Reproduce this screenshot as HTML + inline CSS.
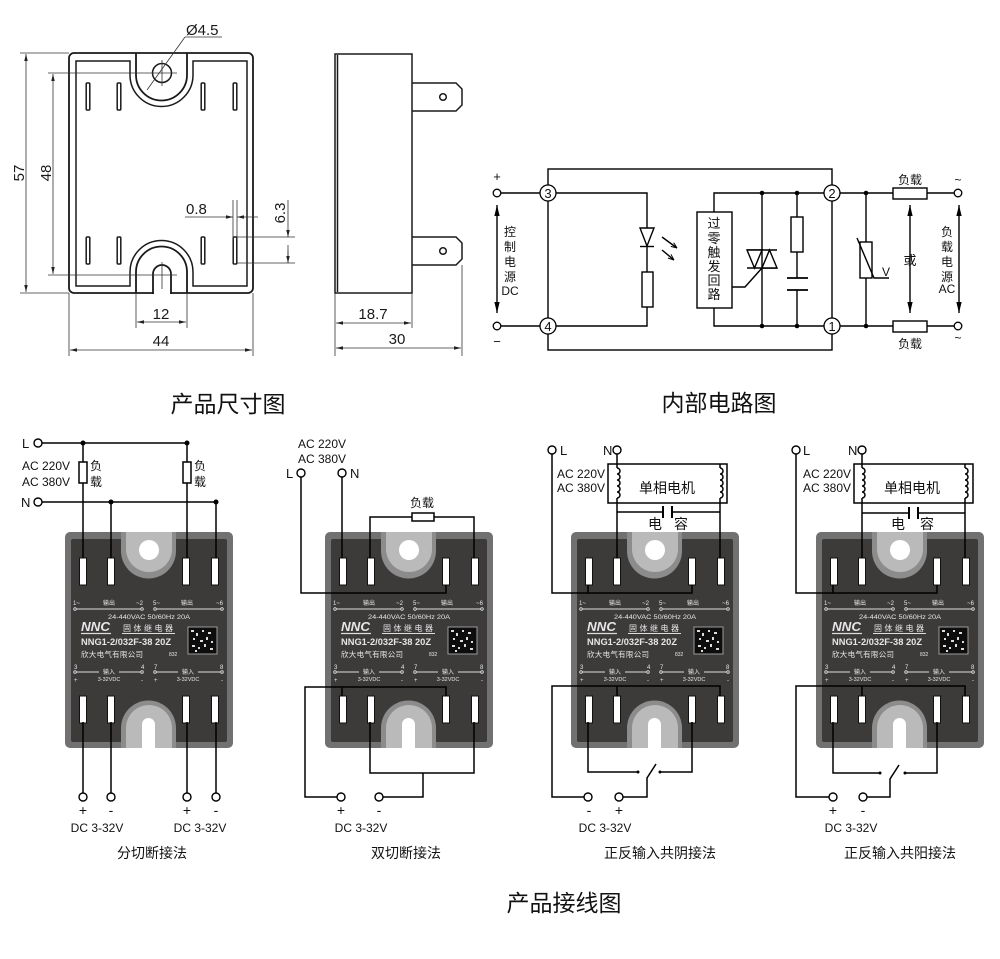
<!DOCTYPE html>
<html><head><meta charset="utf-8">
<style>
html,body{margin:0;padding:0;background:#fff;}
svg{display:block;}
text{font-family:"Liberation Sans","Noto Sans CJK SC",sans-serif;}
</style></head><body>
<svg width="1000" height="959" viewBox="0 0 1000 959" xmlns="http://www.w3.org/2000/svg">
<defs>
<marker id="ar" viewBox="0 0 10 10" refX="10" refY="5" markerWidth="7" markerHeight="7" markerUnits="userSpaceOnUse" orient="auto-start-reverse"><path d="M0,2.5 L10,5 L0,7.5 Z" fill="#222"/></marker>
<marker id="ab" viewBox="0 0 10 10" refX="10" refY="5" markerWidth="11" markerHeight="11" markerUnits="userSpaceOnUse" orient="auto-start-reverse"><path d="M0,2.6 L10,5 L0,7.4 Z" fill="#000"/></marker>
<marker id="as" viewBox="0 0 10 10" refX="10" refY="5" markerWidth="6" markerHeight="6" markerUnits="userSpaceOnUse" orient="auto"><path d="M0,1 L10,5 L0,9" fill="none" stroke="#000" stroke-width="1.6"/></marker>
</defs>
<rect width="1000" height="959" fill="#fff"/>

<!-- ============ DIMENSION DRAWING ============ -->
<g fill="none" stroke="#1a1a1a" stroke-width="1.8">
<rect x="69" y="53" width="184" height="240" rx="5"/>
<path d="M76,61 H130 V75 A31.5,31.5 0 0 0 193,75 V61 H247 V286 H193 V272 A31.5,31.5 0 0 0 130,272 V286 H76 Z" stroke-width="1.5"/>
<path d="M136,53 V75 A25.5,25.5 0 0 0 187,75 V53"/>
<path d="M136,293 V272 A25.5,25.5 0 0 1 187,272 V293"/>
</g>
<rect x="154" y="288" width="16" height="8" fill="#fff"/>
<path d="M153,294 V274 A9,9 0 0 1 171,274 V294" fill="none" stroke="#1a1a1a" stroke-width="1.8"/>
<circle cx="162" cy="73" r="9.5" fill="none" stroke="#1a1a1a" stroke-width="1.5"/>
<g fill="#fff" stroke="#1a1a1a" stroke-width="1.5">
<rect x="86.2" y="83" width="3.6" height="27" rx="1"/>
<rect x="117.2" y="83" width="3.6" height="27" rx="1"/>
<rect x="201.2" y="83" width="3.6" height="27" rx="1"/>
<rect x="233.2" y="83" width="3.6" height="27" rx="1"/>
<rect x="86.2" y="237" width="3.6" height="27" rx="1"/>
<rect x="117.2" y="237" width="3.6" height="27" rx="1"/>
<rect x="201.2" y="237" width="3.6" height="27" rx="1"/>
<rect x="233.2" y="237" width="3.6" height="27" rx="1"/>
</g>
<g stroke="#333" stroke-width="0.8" fill="none">
<!-- center lines -->
<line x1="48" y1="73" x2="177" y2="73"/>
<line x1="162" y1="60" x2="162" y2="86"/>
<line x1="48" y1="275" x2="177" y2="275"/>
<line x1="162" y1="262" x2="162" y2="289"/>
<!-- 57 -->
<line x1="20" y1="53" x2="69" y2="53"/>
<line x1="20" y1="293" x2="69" y2="293"/>
<line x1="26" y1="54" x2="26" y2="292" marker-start="url(#ar)" marker-end="url(#ar)"/>
<!-- 48 -->
<line x1="53" y1="74" x2="53" y2="274" marker-start="url(#ar)" marker-end="url(#ar)"/>
<!-- dia -->
<line x1="185" y1="37" x2="147" y2="90"/>
<line x1="185" y1="37" x2="222" y2="37"/>
<!-- 0.8 -->
<line x1="233" y1="200" x2="233" y2="240"/>
<line x1="237" y1="200" x2="237" y2="240"/>
<line x1="185" y1="217" x2="233" y2="217" marker-end="url(#ar)"/>
<line x1="258" y1="217" x2="237" y2="217" marker-end="url(#ar)"/>
<!-- 6.3 -->
<line x1="237" y1="237" x2="295" y2="237"/>
<line x1="237" y1="263" x2="295" y2="263"/>
<line x1="288" y1="200" x2="288" y2="237" marker-end="url(#ar)"/>
<line x1="288" y1="263" x2="288" y2="245"/>
<line x1="288" y1="250" x2="288" y2="263" marker-end="url(#ar)"/>
<!-- 12 -->
<line x1="136" y1="293" x2="136" y2="328"/>
<line x1="187" y1="293" x2="187" y2="328"/>
<line x1="137" y1="322" x2="186" y2="322" marker-start="url(#ar)" marker-end="url(#ar)"/>
<!-- 44 -->
<line x1="69" y1="293" x2="69" y2="356"/>
<line x1="253" y1="293" x2="253" y2="356"/>
<line x1="70" y1="350" x2="252" y2="350" marker-start="url(#ar)" marker-end="url(#ar)"/>
</g>
<g fill="#1a1a1a" font-size="15">
<text transform="translate(24,173) rotate(-90)" text-anchor="middle">57</text>
<text transform="translate(51,173) rotate(-90)" text-anchor="middle">48</text>
<text x="186" y="35">Ø4.5</text>
<text x="186" y="214">0.8</text>
<text transform="translate(285,213) rotate(-90)" text-anchor="middle">6.3</text>
<text x="161" y="319" text-anchor="middle">12</text>
<text x="161" y="346" text-anchor="middle">44</text>
</g>

<!-- side view -->
<g fill="none" stroke="#1a1a1a" stroke-width="1.5">
<rect x="335" y="54" width="77" height="239"/>
<line x1="337.5" y1="55" x2="337.5" y2="292"/>
<path d="M412,83 H456 L462,89 V105 L456,111 H412"/>
<path d="M412,237 H456 L462,243 V259 L456,265 H412"/>
<circle cx="443" cy="97" r="3.3"/>
<circle cx="443" cy="251" r="3.3"/>
</g>
<g stroke="#333" stroke-width="0.8" fill="none">
<line x1="335" y1="293" x2="335" y2="356"/>
<line x1="412" y1="293" x2="412" y2="328"/>
<line x1="462" y1="265" x2="462" y2="356"/>
<line x1="336" y1="323" x2="411" y2="323" marker-start="url(#ar)" marker-end="url(#ar)"/>
<line x1="336" y1="348" x2="461" y2="348" marker-start="url(#ar)" marker-end="url(#ar)"/>
</g>
<g fill="#1a1a1a" font-size="15">
<text x="373" y="319" text-anchor="middle">18.7</text>
<text x="397" y="344" text-anchor="middle">30</text>
</g>

<text x="228" y="412" font-size="23" text-anchor="middle" fill="#111">产品尺寸图</text>
<text x="719" y="411" font-size="23" text-anchor="middle" fill="#111">内部电路图</text>
<text x="564" y="911" font-size="23" text-anchor="middle" fill="#111">产品接线图</text>

<!-- ============ CIRCUIT ============ -->
<g fill="none" stroke="#000" stroke-width="1.4">
<rect x="548" y="169" width="284" height="181"/>
<line x1="501" y1="193" x2="548" y2="193"/>
<line x1="501" y1="326" x2="548" y2="326"/>
<polyline points="548,193 647,193 647,228"/>
<line x1="647" y1="246" x2="647" y2="272"/>
<rect x="642" y="272" width="11" height="35"/>
<polyline points="647,307 647,326 548,326"/>
<line x1="640" y1="246.5" x2="654" y2="246.5"/>
<line x1="662" y1="237" x2="677" y2="248" marker-end="url(#as)"/>
<line x1="662" y1="250" x2="674" y2="260" marker-end="url(#as)"/>
<rect x="697" y="212" width="35" height="96"/>
<polyline points="714,212 714,193 832,193"/>
<polyline points="714,308 714,326 832,326"/>
<line x1="762" y1="193" x2="762" y2="326"/>
<line x1="747" y1="250" x2="777" y2="250"/>
<line x1="747" y1="268" x2="777" y2="268"/>
<polyline points="762,268 745,287 732,287"/>
<line x1="797" y1="193" x2="797" y2="217"/>
<rect x="791" y="217" width="12" height="35"/>
<line x1="797" y1="252" x2="797" y2="278"/>
<line x1="787" y1="278" x2="808" y2="278" stroke-width="1.8"/>
<line x1="787" y1="290" x2="808" y2="290" stroke-width="1.8"/>
<line x1="797" y1="290" x2="797" y2="326"/>
<line x1="832" y1="193" x2="893" y2="193"/>
<line x1="832" y1="326" x2="893" y2="326"/>
<rect x="893" y="188" width="34" height="11"/>
<rect x="893" y="321" width="34" height="11"/>
<line x1="927" y1="193" x2="954" y2="193"/>
<line x1="927" y1="326" x2="954" y2="326"/>
<line x1="866" y1="193" x2="866" y2="242"/>
<rect x="860" y="242" width="12" height="36"/>
<line x1="866" y1="278" x2="866" y2="326"/>
<polyline points="857,238 874,278 889,278"/>
<line x1="497" y1="205" x2="497" y2="313" marker-start="url(#ab)" marker-end="url(#ab)"/>
<line x1="910" y1="205" x2="910" y2="313" marker-start="url(#ab)" marker-end="url(#ab)"/>
<line x1="959" y1="205" x2="959" y2="313" marker-start="url(#ab)" marker-end="url(#ab)"/>
</g>
<polygon points="640,228 654,228 647,246" fill="#fff" stroke="#000" stroke-width="1.4"/>
<polygon points="747,250 762,250 754.5,268" fill="#fff" stroke="#000" stroke-width="1.4"/>
<polygon points="762,268 777,268 769.5,250" fill="#fff" stroke="#000" stroke-width="1.4"/>
<g fill="#000">
<circle cx="762" cy="193" r="2.3"/><circle cx="762" cy="326" r="2.3"/>
<circle cx="797" cy="193" r="2.3"/><circle cx="797" cy="326" r="2.3"/>
<circle cx="866" cy="193" r="2.3"/><circle cx="866" cy="326" r="2.3"/>
</g>
<g fill="#fff" stroke="#000" stroke-width="1.3">
<circle cx="548" cy="193" r="8"/><circle cx="548" cy="326" r="8"/>
<circle cx="832" cy="193" r="8"/><circle cx="832" cy="326" r="8"/>
<circle cx="497" cy="193" r="3.8"/><circle cx="497" cy="326" r="3.8"/>
<circle cx="958" cy="193" r="3.8"/><circle cx="958" cy="326" r="3.8"/>
</g>
<g fill="#111" font-size="13" text-anchor="middle">
<text x="548" y="198">3</text><text x="548" y="331">4</text>
<text x="832" y="198">2</text><text x="832" y="331">1</text>
<text x="497" y="181">+</text><text x="497" y="346">−</text>
<text x="958" y="184" font-size="12">~</text><text x="958" y="342" font-size="12">~</text>
</g>
<g fill="#111" font-size="12" text-anchor="middle">
<text x="510" y="236">控</text><text x="510" y="251">制</text><text x="510" y="266">电</text><text x="510" y="281">源</text><text x="510" y="295">DC</text>
<text x="714" y="228" font-size="13">过</text><text x="714" y="243" font-size="13">零</text><text x="714" y="257" font-size="13">触</text><text x="714" y="271" font-size="13">发</text><text x="714" y="285" font-size="13">回</text><text x="714" y="299" font-size="13">路</text>
<text x="910" y="184">负载</text><text x="910" y="348">负载</text>
<text x="910" y="265" font-size="13">或</text>
<text x="886" y="276">V</text>
<text x="947" y="236">负</text><text x="947" y="251">载</text><text x="947" y="266">电</text><text x="947" y="281">源</text><text x="947" y="293">AC</text>
</g>

<!-- ============ RELAYS ============ -->
<g transform="translate(65,532)">
<rect width="168" height="216" rx="5" fill="#717171"/>
<rect x="6" y="7" width="156" height="203" rx="2" fill="#3d3a3a"/>
<path d="M56,0 V19 A27.5,27.5 0 0 0 111,19 V0 Z" fill="#8c8c8c"/>
<path d="M61,0 V17 A23,23 0 0 0 107,17 V0 Z" fill="#bababa"/>
<circle cx="84" cy="18" r="10" fill="#fff"/>
<path d="M56,216 V196 A27.5,27.5 0 0 1 111,196 V216 Z" fill="#8c8c8c"/>
<path d="M61,216 V196 A23,23 0 0 1 107,196 V216 Z" fill="#bababa"/>
<path d="M77,216 V192.5 A6.5,6.5 0 0 1 90,192.5 V216 Z" fill="#fff"/>
<g fill="#fff" stroke="#111" stroke-width="1">
<rect x="14.5" y="26" width="7" height="27"/><rect x="42.5" y="26" width="7" height="27"/><rect x="117.5" y="26" width="7" height="27"/><rect x="146.5" y="26" width="7" height="27"/>
<rect x="14.5" y="164" width="7" height="27"/><rect x="42.5" y="164" width="7" height="27"/><rect x="117.5" y="164" width="7" height="27"/><rect x="146.5" y="164" width="7" height="27"/>
</g>
<g stroke="#ddd" stroke-width="0.9" fill="none">
<line x1="11" y1="77" x2="76" y2="77"/><circle cx="10" cy="77" r="1.3"/><circle cx="77" cy="77" r="1.3"/>
<line x1="91" y1="77" x2="156" y2="77"/><circle cx="90" cy="77" r="1.3"/><circle cx="157" cy="77" r="1.3"/>
<line x1="11" y1="140" x2="34" y2="140"/><line x1="54" y1="140" x2="76" y2="140"/><circle cx="10" cy="140" r="1.3"/><circle cx="77" cy="140" r="1.3"/>
<line x1="91" y1="140" x2="113" y2="140"/><line x1="133" y1="140" x2="156" y2="140"/><circle cx="90" cy="140" r="1.3"/><circle cx="157" cy="140" r="1.3"/>
<line x1="16" y1="101.5" x2="46" y2="101.5" stroke-width="1.2"/><line x1="57" y1="101.5" x2="110" y2="101.5"/>
</g>
<g fill="#e6e6e6">
<text x="8" y="73" font-size="6">1~</text><text x="78" y="73" font-size="6" text-anchor="end">~2</text><text x="44" y="73" font-size="6" text-anchor="middle">输出</text>
<text x="88" y="73" font-size="6">5~</text><text x="158" y="73" font-size="6" text-anchor="end">~6</text><text x="122" y="73" font-size="6" text-anchor="middle">输出</text>
<text x="43" y="87" font-size="6.5" textLength="82" lengthAdjust="spacingAndGlyphs">24-440VAC  50/60Hz  20A</text>
<text x="16" y="99" font-size="13" font-weight="bold" font-style="italic" textLength="29" lengthAdjust="spacingAndGlyphs">NNC</text>
<text x="58" y="99" font-size="8" textLength="50" lengthAdjust="spacing">固体继电器</text>
<text x="16" y="113" font-size="9.5" font-weight="bold" textLength="90" lengthAdjust="spacingAndGlyphs">NNG1-2/032F-38 20Z</text>
<text x="16" y="125" font-size="7.5" textLength="62" lengthAdjust="spacing">欣大电气有限公司</text>
<text x="104" y="124" font-size="5">832</text>
<text x="9" y="137" font-size="6">3</text><text x="76" y="137" font-size="6">4</text><text x="44" y="142" font-size="6" text-anchor="middle">输入</text>
<text x="89" y="137" font-size="6">7</text><text x="155" y="137" font-size="6">8</text><text x="123" y="142" font-size="6" text-anchor="middle">输入</text>
<text x="9" y="150" font-size="6">+</text><text x="44" y="149" font-size="5.5" text-anchor="middle">3-32VDC</text><text x="76" y="150" font-size="6">-</text>
<text x="89" y="150" font-size="6">+</text><text x="123" y="149" font-size="5.5" text-anchor="middle">3-32VDC</text><text x="156" y="150" font-size="6">-</text>
</g>
<rect x="123" y="95" width="29" height="27" fill="#0d0d0d" stroke="#9a9a9a" stroke-width="1"/>
<g fill="#ddd"><rect x="126" y="98" width="3" height="2"/><rect x="131" y="101" width="2" height="3"/><rect x="137" y="98" width="2" height="2"/><rect x="143" y="100" width="3" height="2"/><rect x="128" y="106" width="2" height="2"/><rect x="135" y="108" width="3" height="2"/><rect x="141" y="105" width="2" height="3"/><rect x="146" y="109" width="2" height="2"/><rect x="127" y="113" width="3" height="2"/><rect x="133" y="115" width="2" height="2"/><rect x="139" y="112" width="2" height="3"/><rect x="145" y="116" width="3" height="2"/><rect x="130" y="118" width="2" height="2"/></g>
</g>

<g transform="translate(325,532)">
<rect width="168" height="216" rx="5" fill="#717171"/>
<rect x="6" y="7" width="156" height="203" rx="2" fill="#3d3a3a"/>
<path d="M56,0 V19 A27.5,27.5 0 0 0 111,19 V0 Z" fill="#8c8c8c"/>
<path d="M61,0 V17 A23,23 0 0 0 107,17 V0 Z" fill="#bababa"/>
<circle cx="84" cy="18" r="10" fill="#fff"/>
<path d="M56,216 V196 A27.5,27.5 0 0 1 111,196 V216 Z" fill="#8c8c8c"/>
<path d="M61,216 V196 A23,23 0 0 1 107,196 V216 Z" fill="#bababa"/>
<path d="M77,216 V192.5 A6.5,6.5 0 0 1 90,192.5 V216 Z" fill="#fff"/>
<g fill="#fff" stroke="#111" stroke-width="1">
<rect x="14.5" y="26" width="7" height="27"/><rect x="42.5" y="26" width="7" height="27"/><rect x="117.5" y="26" width="7" height="27"/><rect x="146.5" y="26" width="7" height="27"/>
<rect x="14.5" y="164" width="7" height="27"/><rect x="42.5" y="164" width="7" height="27"/><rect x="117.5" y="164" width="7" height="27"/><rect x="146.5" y="164" width="7" height="27"/>
</g>
<g stroke="#ddd" stroke-width="0.9" fill="none">
<line x1="11" y1="77" x2="76" y2="77"/><circle cx="10" cy="77" r="1.3"/><circle cx="77" cy="77" r="1.3"/>
<line x1="91" y1="77" x2="156" y2="77"/><circle cx="90" cy="77" r="1.3"/><circle cx="157" cy="77" r="1.3"/>
<line x1="11" y1="140" x2="34" y2="140"/><line x1="54" y1="140" x2="76" y2="140"/><circle cx="10" cy="140" r="1.3"/><circle cx="77" cy="140" r="1.3"/>
<line x1="91" y1="140" x2="113" y2="140"/><line x1="133" y1="140" x2="156" y2="140"/><circle cx="90" cy="140" r="1.3"/><circle cx="157" cy="140" r="1.3"/>
<line x1="16" y1="101.5" x2="46" y2="101.5" stroke-width="1.2"/><line x1="57" y1="101.5" x2="110" y2="101.5"/>
</g>
<g fill="#e6e6e6">
<text x="8" y="73" font-size="6">1~</text><text x="78" y="73" font-size="6" text-anchor="end">~2</text><text x="44" y="73" font-size="6" text-anchor="middle">输出</text>
<text x="88" y="73" font-size="6">5~</text><text x="158" y="73" font-size="6" text-anchor="end">~6</text><text x="122" y="73" font-size="6" text-anchor="middle">输出</text>
<text x="43" y="87" font-size="6.5" textLength="82" lengthAdjust="spacingAndGlyphs">24-440VAC  50/60Hz  20A</text>
<text x="16" y="99" font-size="13" font-weight="bold" font-style="italic" textLength="29" lengthAdjust="spacingAndGlyphs">NNC</text>
<text x="58" y="99" font-size="8" textLength="50" lengthAdjust="spacing">固体继电器</text>
<text x="16" y="113" font-size="9.5" font-weight="bold" textLength="90" lengthAdjust="spacingAndGlyphs">NNG1-2/032F-38 20Z</text>
<text x="16" y="125" font-size="7.5" textLength="62" lengthAdjust="spacing">欣大电气有限公司</text>
<text x="104" y="124" font-size="5">832</text>
<text x="9" y="137" font-size="6">3</text><text x="76" y="137" font-size="6">4</text><text x="44" y="142" font-size="6" text-anchor="middle">输入</text>
<text x="89" y="137" font-size="6">7</text><text x="155" y="137" font-size="6">8</text><text x="123" y="142" font-size="6" text-anchor="middle">输入</text>
<text x="9" y="150" font-size="6">+</text><text x="44" y="149" font-size="5.5" text-anchor="middle">3-32VDC</text><text x="76" y="150" font-size="6">-</text>
<text x="89" y="150" font-size="6">+</text><text x="123" y="149" font-size="5.5" text-anchor="middle">3-32VDC</text><text x="156" y="150" font-size="6">-</text>
</g>
<rect x="123" y="95" width="29" height="27" fill="#0d0d0d" stroke="#9a9a9a" stroke-width="1"/>
<g fill="#ddd"><rect x="126" y="98" width="3" height="2"/><rect x="131" y="101" width="2" height="3"/><rect x="137" y="98" width="2" height="2"/><rect x="143" y="100" width="3" height="2"/><rect x="128" y="106" width="2" height="2"/><rect x="135" y="108" width="3" height="2"/><rect x="141" y="105" width="2" height="3"/><rect x="146" y="109" width="2" height="2"/><rect x="127" y="113" width="3" height="2"/><rect x="133" y="115" width="2" height="2"/><rect x="139" y="112" width="2" height="3"/><rect x="145" y="116" width="3" height="2"/><rect x="130" y="118" width="2" height="2"/></g>
</g>

<g transform="translate(571,532)">
<rect width="168" height="216" rx="5" fill="#717171"/>
<rect x="6" y="7" width="156" height="203" rx="2" fill="#3d3a3a"/>
<path d="M56,0 V19 A27.5,27.5 0 0 0 111,19 V0 Z" fill="#8c8c8c"/>
<path d="M61,0 V17 A23,23 0 0 0 107,17 V0 Z" fill="#bababa"/>
<circle cx="84" cy="18" r="10" fill="#fff"/>
<path d="M56,216 V196 A27.5,27.5 0 0 1 111,196 V216 Z" fill="#8c8c8c"/>
<path d="M61,216 V196 A23,23 0 0 1 107,196 V216 Z" fill="#bababa"/>
<path d="M77,216 V192.5 A6.5,6.5 0 0 1 90,192.5 V216 Z" fill="#fff"/>
<g fill="#fff" stroke="#111" stroke-width="1">
<rect x="14.5" y="26" width="7" height="27"/><rect x="42.5" y="26" width="7" height="27"/><rect x="117.5" y="26" width="7" height="27"/><rect x="146.5" y="26" width="7" height="27"/>
<rect x="14.5" y="164" width="7" height="27"/><rect x="42.5" y="164" width="7" height="27"/><rect x="117.5" y="164" width="7" height="27"/><rect x="146.5" y="164" width="7" height="27"/>
</g>
<g stroke="#ddd" stroke-width="0.9" fill="none">
<line x1="11" y1="77" x2="76" y2="77"/><circle cx="10" cy="77" r="1.3"/><circle cx="77" cy="77" r="1.3"/>
<line x1="91" y1="77" x2="156" y2="77"/><circle cx="90" cy="77" r="1.3"/><circle cx="157" cy="77" r="1.3"/>
<line x1="11" y1="140" x2="34" y2="140"/><line x1="54" y1="140" x2="76" y2="140"/><circle cx="10" cy="140" r="1.3"/><circle cx="77" cy="140" r="1.3"/>
<line x1="91" y1="140" x2="113" y2="140"/><line x1="133" y1="140" x2="156" y2="140"/><circle cx="90" cy="140" r="1.3"/><circle cx="157" cy="140" r="1.3"/>
<line x1="16" y1="101.5" x2="46" y2="101.5" stroke-width="1.2"/><line x1="57" y1="101.5" x2="110" y2="101.5"/>
</g>
<g fill="#e6e6e6">
<text x="8" y="73" font-size="6">1~</text><text x="78" y="73" font-size="6" text-anchor="end">~2</text><text x="44" y="73" font-size="6" text-anchor="middle">输出</text>
<text x="88" y="73" font-size="6">5~</text><text x="158" y="73" font-size="6" text-anchor="end">~6</text><text x="122" y="73" font-size="6" text-anchor="middle">输出</text>
<text x="43" y="87" font-size="6.5" textLength="82" lengthAdjust="spacingAndGlyphs">24-440VAC  50/60Hz  20A</text>
<text x="16" y="99" font-size="13" font-weight="bold" font-style="italic" textLength="29" lengthAdjust="spacingAndGlyphs">NNC</text>
<text x="58" y="99" font-size="8" textLength="50" lengthAdjust="spacing">固体继电器</text>
<text x="16" y="113" font-size="9.5" font-weight="bold" textLength="90" lengthAdjust="spacingAndGlyphs">NNG1-2/032F-38 20Z</text>
<text x="16" y="125" font-size="7.5" textLength="62" lengthAdjust="spacing">欣大电气有限公司</text>
<text x="104" y="124" font-size="5">832</text>
<text x="9" y="137" font-size="6">3</text><text x="76" y="137" font-size="6">4</text><text x="44" y="142" font-size="6" text-anchor="middle">输入</text>
<text x="89" y="137" font-size="6">7</text><text x="155" y="137" font-size="6">8</text><text x="123" y="142" font-size="6" text-anchor="middle">输入</text>
<text x="9" y="150" font-size="6">+</text><text x="44" y="149" font-size="5.5" text-anchor="middle">3-32VDC</text><text x="76" y="150" font-size="6">-</text>
<text x="89" y="150" font-size="6">+</text><text x="123" y="149" font-size="5.5" text-anchor="middle">3-32VDC</text><text x="156" y="150" font-size="6">-</text>
</g>
<rect x="123" y="95" width="29" height="27" fill="#0d0d0d" stroke="#9a9a9a" stroke-width="1"/>
<g fill="#ddd"><rect x="126" y="98" width="3" height="2"/><rect x="131" y="101" width="2" height="3"/><rect x="137" y="98" width="2" height="2"/><rect x="143" y="100" width="3" height="2"/><rect x="128" y="106" width="2" height="2"/><rect x="135" y="108" width="3" height="2"/><rect x="141" y="105" width="2" height="3"/><rect x="146" y="109" width="2" height="2"/><rect x="127" y="113" width="3" height="2"/><rect x="133" y="115" width="2" height="2"/><rect x="139" y="112" width="2" height="3"/><rect x="145" y="116" width="3" height="2"/><rect x="130" y="118" width="2" height="2"/></g>
</g>

<g transform="translate(816,532)">
<rect width="168" height="216" rx="5" fill="#717171"/>
<rect x="6" y="7" width="156" height="203" rx="2" fill="#3d3a3a"/>
<path d="M56,0 V19 A27.5,27.5 0 0 0 111,19 V0 Z" fill="#8c8c8c"/>
<path d="M61,0 V17 A23,23 0 0 0 107,17 V0 Z" fill="#bababa"/>
<circle cx="84" cy="18" r="10" fill="#fff"/>
<path d="M56,216 V196 A27.5,27.5 0 0 1 111,196 V216 Z" fill="#8c8c8c"/>
<path d="M61,216 V196 A23,23 0 0 1 107,196 V216 Z" fill="#bababa"/>
<path d="M77,216 V192.5 A6.5,6.5 0 0 1 90,192.5 V216 Z" fill="#fff"/>
<g fill="#fff" stroke="#111" stroke-width="1">
<rect x="14.5" y="26" width="7" height="27"/><rect x="42.5" y="26" width="7" height="27"/><rect x="117.5" y="26" width="7" height="27"/><rect x="146.5" y="26" width="7" height="27"/>
<rect x="14.5" y="164" width="7" height="27"/><rect x="42.5" y="164" width="7" height="27"/><rect x="117.5" y="164" width="7" height="27"/><rect x="146.5" y="164" width="7" height="27"/>
</g>
<g stroke="#ddd" stroke-width="0.9" fill="none">
<line x1="11" y1="77" x2="76" y2="77"/><circle cx="10" cy="77" r="1.3"/><circle cx="77" cy="77" r="1.3"/>
<line x1="91" y1="77" x2="156" y2="77"/><circle cx="90" cy="77" r="1.3"/><circle cx="157" cy="77" r="1.3"/>
<line x1="11" y1="140" x2="34" y2="140"/><line x1="54" y1="140" x2="76" y2="140"/><circle cx="10" cy="140" r="1.3"/><circle cx="77" cy="140" r="1.3"/>
<line x1="91" y1="140" x2="113" y2="140"/><line x1="133" y1="140" x2="156" y2="140"/><circle cx="90" cy="140" r="1.3"/><circle cx="157" cy="140" r="1.3"/>
<line x1="16" y1="101.5" x2="46" y2="101.5" stroke-width="1.2"/><line x1="57" y1="101.5" x2="110" y2="101.5"/>
</g>
<g fill="#e6e6e6">
<text x="8" y="73" font-size="6">1~</text><text x="78" y="73" font-size="6" text-anchor="end">~2</text><text x="44" y="73" font-size="6" text-anchor="middle">输出</text>
<text x="88" y="73" font-size="6">5~</text><text x="158" y="73" font-size="6" text-anchor="end">~6</text><text x="122" y="73" font-size="6" text-anchor="middle">输出</text>
<text x="43" y="87" font-size="6.5" textLength="82" lengthAdjust="spacingAndGlyphs">24-440VAC  50/60Hz  20A</text>
<text x="16" y="99" font-size="13" font-weight="bold" font-style="italic" textLength="29" lengthAdjust="spacingAndGlyphs">NNC</text>
<text x="58" y="99" font-size="8" textLength="50" lengthAdjust="spacing">固体继电器</text>
<text x="16" y="113" font-size="9.5" font-weight="bold" textLength="90" lengthAdjust="spacingAndGlyphs">NNG1-2/032F-38 20Z</text>
<text x="16" y="125" font-size="7.5" textLength="62" lengthAdjust="spacing">欣大电气有限公司</text>
<text x="104" y="124" font-size="5">832</text>
<text x="9" y="137" font-size="6">3</text><text x="76" y="137" font-size="6">4</text><text x="44" y="142" font-size="6" text-anchor="middle">输入</text>
<text x="89" y="137" font-size="6">7</text><text x="155" y="137" font-size="6">8</text><text x="123" y="142" font-size="6" text-anchor="middle">输入</text>
<text x="9" y="150" font-size="6">+</text><text x="44" y="149" font-size="5.5" text-anchor="middle">3-32VDC</text><text x="76" y="150" font-size="6">-</text>
<text x="89" y="150" font-size="6">+</text><text x="123" y="149" font-size="5.5" text-anchor="middle">3-32VDC</text><text x="156" y="150" font-size="6">-</text>
</g>
<rect x="123" y="95" width="29" height="27" fill="#0d0d0d" stroke="#9a9a9a" stroke-width="1"/>
<g fill="#ddd"><rect x="126" y="98" width="3" height="2"/><rect x="131" y="101" width="2" height="3"/><rect x="137" y="98" width="2" height="2"/><rect x="143" y="100" width="3" height="2"/><rect x="128" y="106" width="2" height="2"/><rect x="135" y="108" width="3" height="2"/><rect x="141" y="105" width="2" height="3"/><rect x="146" y="109" width="2" height="2"/><rect x="127" y="113" width="3" height="2"/><rect x="133" y="115" width="2" height="2"/><rect x="139" y="112" width="2" height="3"/><rect x="145" y="116" width="3" height="2"/><rect x="130" y="118" width="2" height="2"/></g>
</g>

<!-- ============ WIRING ============ -->
<g fill="none" stroke="#000" stroke-width="1.5">
<!-- relay 1 -->
<line x1="42" y1="443" x2="187" y2="443"/>
<line x1="42" y1="502" x2="216" y2="502"/>
<line x1="83" y1="443" x2="83" y2="462"/><rect x="79" y="462" width="8" height="21"/><line x1="83" y1="483" x2="83" y2="558"/>
<line x1="187" y1="443" x2="187" y2="462"/><rect x="183" y="462" width="8" height="21"/><line x1="187" y1="483" x2="187" y2="558"/>
<line x1="111" y1="502" x2="111" y2="558"/>
<line x1="216" y1="502" x2="216" y2="558"/>
<line x1="83" y1="722" x2="83" y2="793"/>
<line x1="111" y1="722" x2="111" y2="793"/>
<line x1="187" y1="722" x2="187" y2="793"/>
<line x1="216" y1="722" x2="216" y2="793"/>
<!-- relay 2 -->
<polyline points="301,477 301,593 446,593 446,585"/>
<line x1="342" y1="477" x2="342" y2="558"/>
<polyline points="370,558 370,517 412,517"/>
<rect x="412" y="513" width="22" height="8"/>
<polyline points="434,517 474,517 474,558"/>
<polyline points="337,797 305,797 305,687 446,687 446,696"/>
<line x1="342" y1="687" x2="342" y2="696"/>
<polyline points="370,722 370,773 474,773 474,722"/>
<polyline points="423,773 423,797 383,797"/>
<!-- relay 3 -->
<rect x="608" y="464" width="119" height="39"/>
<line x1="617" y1="454" x2="617" y2="468"/>
<path d="M617,468 a3,3 0 0 1 0,6 a3,3 0 0 1 0,6 a3,3 0 0 1 0,6 a3,3 0 0 1 0,6 a3,3 0 0 1 0,6"/>
<line x1="617" y1="498" x2="617" y2="558"/>
<line x1="720" y1="464" x2="720" y2="468"/>
<path d="M720,468 a3,3 0 0 1 0,6 a3,3 0 0 1 0,6 a3,3 0 0 1 0,6 a3,3 0 0 1 0,6 a3,3 0 0 1 0,6"/>
<line x1="720" y1="498" x2="720" y2="558"/>
<line x1="617" y1="512" x2="663" y2="512"/><line x1="672" y1="512" x2="720" y2="512"/>
<line x1="663" y1="506" x2="663" y2="518" stroke-width="2"/><line x1="672" y1="506" x2="672" y2="518" stroke-width="2"/>
<polyline points="552,454 552,593 692,593 692,585"/>
<line x1="588" y1="585" x2="588" y2="593"/>
<polyline points="584,797 552,797 552,686 720,686 720,696"/>
<line x1="617" y1="686" x2="617" y2="696"/>
<polyline points="588,722 588,772 638,772"/>
<polyline points="660,772 692,772 692,722"/>
<polyline points="656,764 647,778 647,797 623,797"/>
<!-- relay 4 -->
<rect x="854" y="464" width="119" height="39"/>
<line x1="862" y1="454" x2="862" y2="468"/>
<path d="M862,468 a3,3 0 0 1 0,6 a3,3 0 0 1 0,6 a3,3 0 0 1 0,6 a3,3 0 0 1 0,6 a3,3 0 0 1 0,6"/>
<line x1="862" y1="498" x2="862" y2="558"/>
<line x1="965" y1="464" x2="965" y2="468"/>
<path d="M965,468 a3,3 0 0 1 0,6 a3,3 0 0 1 0,6 a3,3 0 0 1 0,6 a3,3 0 0 1 0,6 a3,3 0 0 1 0,6"/>
<line x1="965" y1="498" x2="965" y2="558"/>
<line x1="862" y1="513" x2="909" y2="513"/><line x1="918" y1="513" x2="965" y2="513"/>
<line x1="909" y1="507" x2="909" y2="519" stroke-width="2"/><line x1="918" y1="507" x2="918" y2="519" stroke-width="2"/>
<polyline points="796,454 796,593 937,593 937,585"/>
<line x1="833" y1="585" x2="833" y2="593"/>
<polyline points="829,797 796,797 796,686 965,686 965,696"/>
<line x1="862" y1="686" x2="862" y2="696"/>
<polyline points="833,722 833,773 880,773"/>
<polyline points="905,773 937,773 937,722"/>
<polyline points="899,765 890,779 890,797 867,797"/>
</g>
<g fill="#000">
<circle cx="83" cy="443" r="2.5"/><circle cx="187" cy="443" r="2.5"/>
<circle cx="111" cy="502" r="2.5"/><circle cx="216" cy="502" r="2.5"/>
<circle cx="638" cy="772" r="1.5"/><circle cx="660" cy="772" r="1.5"/>
<circle cx="880" cy="773" r="1.5"/><circle cx="905" cy="773" r="1.5"/>
</g>
<g fill="#fff" stroke="#000" stroke-width="1.4">
<circle cx="38" cy="443" r="4"/><circle cx="38" cy="502" r="4"/>
<circle cx="83" cy="797" r="4"/><circle cx="111" cy="797" r="4"/><circle cx="187" cy="797" r="4"/><circle cx="216" cy="797" r="4"/>
<circle cx="301" cy="473" r="4"/><circle cx="342" cy="473" r="4"/>
<circle cx="341" cy="797" r="4"/><circle cx="379" cy="797" r="4"/>
<circle cx="552" cy="450" r="4"/><circle cx="617" cy="450" r="4"/>
<circle cx="588" cy="797" r="4"/><circle cx="619" cy="797" r="4"/>
<circle cx="796" cy="450" r="4"/><circle cx="862" cy="450" r="4"/>
<circle cx="833" cy="797" r="4"/><circle cx="863" cy="797" r="4"/>
</g>

<g fill="#111" font-size="12">
<!-- relay 1 labels -->
<text x="22" y="448" font-size="13">L</text>
<text x="21" y="507" font-size="13">N</text>
<text x="22" y="470">AC 220V</text>
<text x="22" y="486">AC 380V</text>
<text x="90" y="470">负</text><text x="90" y="486">载</text>
<text x="194" y="470">负</text><text x="194" y="486">载</text>
<text x="83" y="815" font-size="14" text-anchor="middle">+</text>
<text x="111" y="815" font-size="14" text-anchor="middle">-</text>
<text x="187" y="815" font-size="14" text-anchor="middle">+</text>
<text x="216" y="815" font-size="14" text-anchor="middle">-</text>
<text x="97" y="832" text-anchor="middle">DC 3-32V</text>
<text x="200" y="832" text-anchor="middle">DC 3-32V</text>
<text x="152" y="858" font-size="14" text-anchor="middle">分切断接法</text>
<!-- relay 2 labels -->
<text x="298" y="448">AC 220V</text>
<text x="298" y="463">AC 380V</text>
<text x="286" y="478" font-size="13">L</text>
<text x="350" y="478" font-size="13">N</text>
<text x="422" y="507" text-anchor="middle">负载</text>
<text x="341" y="815" font-size="14" text-anchor="middle">+</text>
<text x="379" y="815" font-size="14" text-anchor="middle">-</text>
<text x="361" y="832" text-anchor="middle">DC 3-32V</text>
<text x="406" y="858" font-size="14" text-anchor="middle">双切断接法</text>
<!-- relay 3 labels -->
<text x="560" y="455" font-size="13">L</text>
<text x="603" y="455" font-size="13">N</text>
<text x="557" y="478">AC 220V</text>
<text x="557" y="492">AC 380V</text>
<text x="667" y="493" font-size="14" text-anchor="middle">单相电机</text>
<text x="655" y="529" font-size="14" text-anchor="middle">电</text>
<text x="681" y="529" font-size="14" text-anchor="middle">容</text>
<text x="589" y="815" font-size="14" text-anchor="middle">-</text>
<text x="619" y="815" font-size="14" text-anchor="middle">+</text>
<text x="605" y="832" text-anchor="middle">DC 3-32V</text>
<text x="660" y="858" font-size="14" text-anchor="middle">正反输入共阴接法</text>
<!-- relay 4 labels -->
<text x="803" y="455" font-size="13">L</text>
<text x="848" y="455" font-size="13">N</text>
<text x="803" y="478">AC 220V</text>
<text x="803" y="492">AC 380V</text>
<text x="912" y="493" font-size="14" text-anchor="middle">单相电机</text>
<text x="898" y="529" font-size="14" text-anchor="middle">电</text>
<text x="927" y="529" font-size="14" text-anchor="middle">容</text>
<text x="833" y="815" font-size="14" text-anchor="middle">+</text>
<text x="863" y="815" font-size="14" text-anchor="middle">-</text>
<text x="851" y="832" text-anchor="middle">DC 3-32V</text>
<text x="900" y="858" font-size="14" text-anchor="middle">正反输入共阳接法</text>
</g>
</svg>
</body></html>
